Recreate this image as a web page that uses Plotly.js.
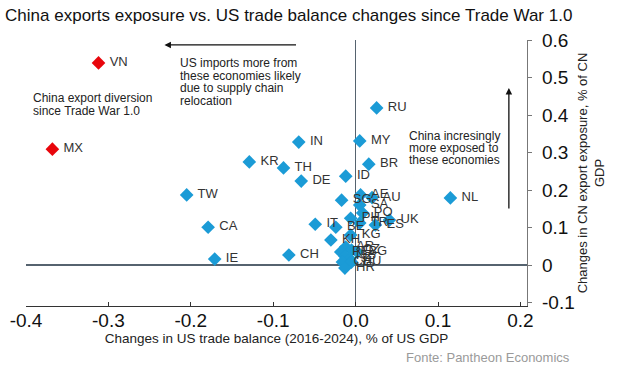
<!DOCTYPE html>
<html>
<head>
<meta charset="utf-8">
<script src="https://cdn.plot.ly/plotly-3.0.1.min.js"></script>
<style>html,body{margin:0;padding:0;background:#fff;}#chart{width:637px;height:385px;}</style>
</head>
<body>
<div id="chart"></div>
<script>
// Highlighted economies (red)
const redLabels = ["VN", "MX"];
const redX = [-0.312, -0.368];
const redY = [0.539, 0.309];

// Other economies (blue)
const blueLabels = ["RU","IN","MY","KR","TH","BR","DE","ID","TW","NL","CA","IE","CH","IT",
  "SG","AE","AU","SA","PO","PH","TR","UK","ES","BE","KG","KH",
  "AR","CZ","BG","PE","NZ","JP","CL","HU","HR"];
const blueX = [0.0255,-0.069,0.005,-0.129,-0.0875,0.016,-0.066,-0.012,-0.205,0.115,-0.179,-0.171,-0.081,-0.049,
  -0.017,0.006,0.02,0.005,0.0085,-0.006,0.005,0.041,0.024,-0.024,-0.006,-0.030,
  -0.012,-0.005,0.002,-0.018,-0.013,-0.007,-0.016,-0.005,-0.013];
const blueY = [0.419,0.328,0.331,0.275,0.259,0.269,0.224,0.237,0.187,0.179,0.101,0.016,0.027,0.109,
  0.173,0.187,0.18,0.16,0.139,0.125,0.112,0.12,0.107,0.101,0.08,0.067,
  0.048,0.04,0.035,0.035,0.024,0.016,0.008,0.008,-0.008];

// Axis ticks
const xTickVals = [-0.4,-0.3,-0.2,-0.1,0,0.1,0.2];
const xTickText = ["-0.4","-0.3","-0.2","-0.1","0.0","0.1","0.2"];
const yTickVals = [-0.1,0,0.1,0.2,0.3,0.4,0.5,0.6];
const yTickText = ["-0.1","0","0.1","0.2","0.3","0.4","0.5","0.6"];

// Text notes
const leftNoteLines = ["US imports more from","these economies likely","due to supply chain","relocation"];
const divNoteLines = ["China export diversion","since Trade War 1.0"];
const rightNoteLines = ["China incresingly","more exposed to","these economies"];

const FONT = "Liberation Sans, Arial, sans-serif";
const BLUE = "#1b9bd6";
const RED = "#e8060c";

const pad = s => " " + s;

const traces = [
  {
    type: "scatter", mode: "markers+text",
    x: blueX, y: blueY, text: blueLabels.map(pad),
    textposition: "middle right",
    textfont: {family: FONT, size: 13, color: "#333"},
    marker: {symbol: "diamond", size: 10.5, color: BLUE},
    cliponaxis: false, hoverinfo: "text"
  },
  {
    type: "scatter", mode: "markers+text",
    x: redX, y: redY, text: redLabels.map(pad),
    textposition: "middle right",
    textfont: {family: FONT, size: 13, color: "#333"},
    marker: {symbol: "diamond", size: 10.5, color: RED},
    cliponaxis: false, hoverinfo: "text"
  }
];

const annotations = [];
// arrows
annotations.push({x: -0.232, y: 0.587, ax: -0.0705, ay: 0.587, axref: "x", ayref: "y", xref: "x", yref: "y",
  text: "", showarrow: true, arrowhead: 2, arrowsize: 1, arrowwidth: 1.3, arrowcolor: "#111"});
annotations.push({x: 0.186, y: 0.472, ax: 0.186, ay: 0.147, axref: "x", ayref: "y", xref: "x", yref: "y",
  text: "", showarrow: true, arrowhead: 2, arrowsize: 1, arrowwidth: 1.3, arrowcolor: "#111"});

const noteFont = {family: FONT, size: 12, color: "#222"};
leftNoteLines.forEach((t, i) => annotations.push({
  xref: "paper", yref: "paper", x: (178 - 26) / 501, y: 1 - (63 + i * 12.7 - 40) / 266,
  xanchor: "left", yanchor: "middle", text: t, showarrow: false, font: noteFont}));
divNoteLines.forEach((t, i) => annotations.push({
  xref: "paper", yref: "paper", x: (31 - 26) / 501, y: 1 - (98 + i * 12.5 - 40) / 266,
  xanchor: "left", yanchor: "middle", text: t, showarrow: false, font: noteFont}));
rightNoteLines.forEach((t, i) => annotations.push({
  xref: "paper", yref: "paper", x: (454 - 26) / 501, y: 1 - (136 + i * 12 - 40) / 266,
  xanchor: "center", yanchor: "middle", text: t, showarrow: false, font: noteFont}));
// source
annotations.push({xref: "paper", yref: "paper", x: (572 - 26) / 501, y: 1 - (357 - 40) / 266,
  xanchor: "right", yanchor: "middle", text: "Fonte: Pantheon Economics", showarrow: false,
  font: {family: FONT, size: 13, color: "#9a9a9a"}});

const layout = {
  width: 637, height: 385,
  margin: {l: 26, r: 110, t: 40, b: 79},
  paper_bgcolor: "#fff", plot_bgcolor: "#fff",
  showlegend: false,
  title: {text: "China exports exposure vs. US trade balance changes since Trade War 1.0",
    font: {family: FONT, size: 17, color: "#111"}, x: 0.008, xanchor: "left", y: 0.96, yanchor: "middle"},
  xaxis: {
    range: [-0.4, 0.208], tickvals: xTickVals, ticktext: xTickText,
    showgrid: false, zeroline: true, zerolinecolor: "#56636f", zerolinewidth: 1.5,
    showline: true, linecolor: "#333", linewidth: 1.2, ticks: "inside", ticklen: 4, tickcolor: "#333",
    tickfont: {family: FONT, size: 19, color: "#111"}, ticklabelstandoff: -3,
    title: {text: "Changes in US trade balance (2016-2024), % of US GDP", font: {family: FONT, size: 13.5, color: "#222"}, standoff: 3}
  },
  yaxis: {
    range: [-0.109, 0.6], tickvals: yTickVals, ticktext: yTickText, side: "right",
    showgrid: false, zeroline: true, zerolinecolor: "#56636f", zerolinewidth: 1.5,
    showline: true, linecolor: "#777", linewidth: 1.2, ticks: "outside", ticklen: 4, tickcolor: "#777",
    tickfont: {family: FONT, size: 19, color: "#111"}, ticklabelstandoff: 6,
    title: {text: "Changes in CN export exposure, % of CN<br>GDP", font: {family: FONT, size: 13, color: "#222"}, standoff: 4}
  },
  annotations: annotations
};

Plotly.newPlot("chart", traces, layout, {displayModeBar: false, staticPlot: true});
</script>
</body>
</html>
